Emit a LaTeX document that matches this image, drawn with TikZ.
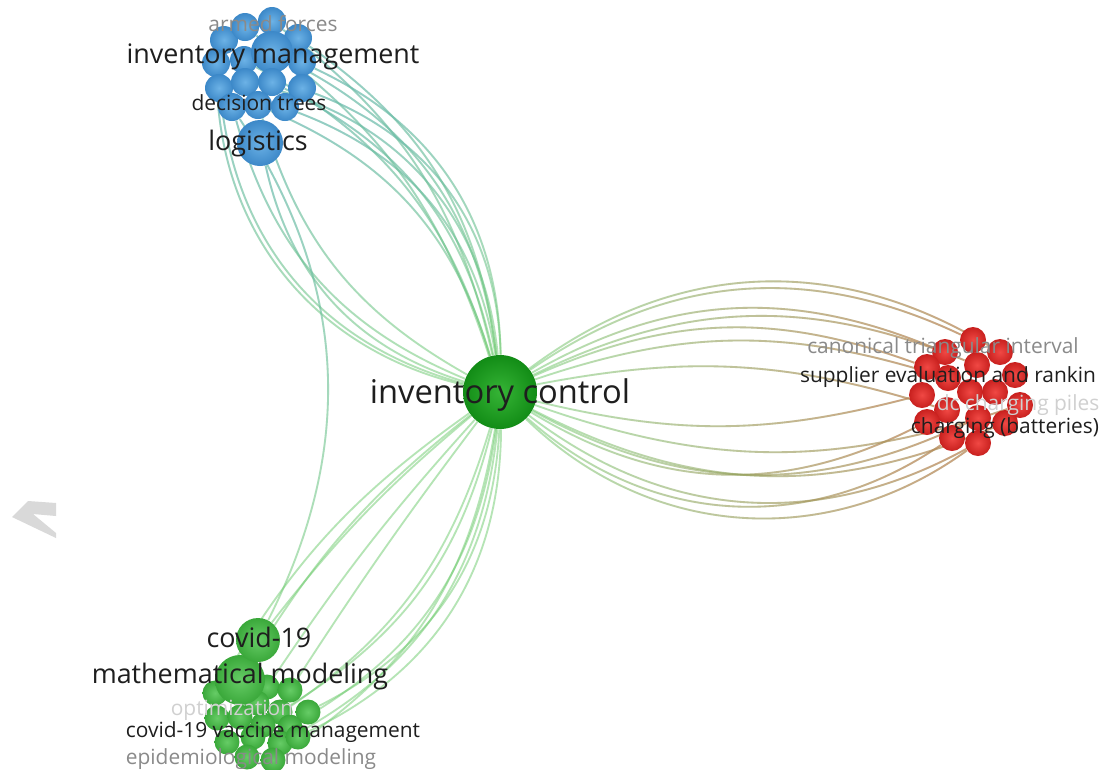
\documentclass[tikz,border=0pt]{standalone}
\usepackage{fontspec}
\setmainfont{Open Sans}
\usetikzlibrary{fadings}
\pgfdeclarelayer{paper}
\pgfdeclarelayer{edges}
\pgfsetlayers{paper,edges,main}

% fadings used to blend each link from one cluster colour into the other
\tikzfading[name=fade to right, left color=transparent!100, right color=transparent!0]
\tikzfading[name=fade to top, top color=transparent!0, bottom color=transparent!100]

\definecolor{edgegreen}{HTML}{6CCB6C}
\definecolor{edgeblue}{HTML}{6FB4D6}
\definecolor{edgered}{HTML}{E0604A}
\definecolor{bluein}{HTML}{6CB2E6}
\definecolor{blueout}{HTML}{3C88C8}
\definecolor{redin}{HTML}{F04844}
\definecolor{redout}{HTML}{C8201E}
\definecolor{greenin}{HTML}{66CC66}
\definecolor{greenout}{HTML}{3AA83A}
\definecolor{hubin}{HTML}{36B436}
\definecolor{hubout}{HTML}{128C16}
\definecolor{labdark}{HTML}{1E1E1E}
\definecolor{labgray}{HTML}{8A8A8A}
\definecolor{labpale}{HTML}{D0D0D0}

\tikzset{
  x=0.02cm, y=-0.02cm,
  lnk/.style={line width=1.05pt, opacity=0.5},
  gedge/.style={lnk, draw=edgegreen},
  bedge/.style={lnk, draw=edgeblue, path fading=fade to top},
  redge/.style={lnk, draw=edgered, path fading=fade to right},
  kw/.style={circle, inner sep=0pt, minimum size=#1*0.04cm},
  bluekw/.style={kw=#1, inner color=bluein, outer color=blueout},
  redkw/.style={kw=#1, inner color=redin, outer color=redout},
  greenkw/.style={kw=#1, inner color=greenin, outer color=greenout},
  hubkw/.style={kw=#1, inner color=hubin, outer color=hubout},
  biglab/.style={anchor=base, inner sep=0pt, text=labdark, font=\fontsize{15.3}{16}\selectfont},
  smalllab/.style={anchor=base, inner sep=0pt, text=labdark, font=\fontsize{11.9}{13}\selectfont},
  graylab/.style={smalllab, text=labgray},
  palelab/.style={smalllab, text=labpale},
}

% a link drawn green at the hub end, blending into the colour of the far cluster
\newcommand\bilink[4]{%
  \draw[gedge] (#2) to[#3] (#4);
  \draw[#1] (#2) to[#3] (#4);}

\begin{document}
\begin{tikzpicture}
\useasboundingbox (0,0) rectangle (1101,769);
\begin{pgfonlayer}{paper}
  \fill[white] (0,0) rectangle (1101,769);
\end{pgfonlayer}

% ---------- blue cluster ----------
\node[bluekw=14] (b1) at (224,40) {};
\node[bluekw=14] (b2) at (245,27) {};
\node[bluekw=14] (b3) at (272,21) {};
\node[bluekw=14] (b4) at (298,38) {};
\node[bluekw=14] (b6) at (302,62) {};
\node[bluekw=14] (b7) at (216,63) {};
\node[bluekw=14] (b8) at (244,60) {};
\node[bluekw=21] (b5) at (272,52) {};
\node[bluekw=14] (b9) at (219,88) {};
\node[bluekw=14] (b10) at (245,82) {};
\node[bluekw=14] (b11) at (272,82) {};
\node[bluekw=14] (b12) at (302,88) {};
\node[bluekw=14] (b13) at (232,107) {};
\node[bluekw=14] (b14) at (258,105) {};
\node[bluekw=14] (b15) at (285,107) {};
\node[bluekw=23] (blo) at (260,143) {};

% ---------- red cluster ----------
\node[redkw=13] (r1) at (973,340) {};
\node[redkw=13] (r2) at (945,352) {};
\node[redkw=13] (r3) at (1000,352) {};
\node[redkw=13] (r4) at (927,367) {};
\node[redkw=13] (r5) at (977,365) {};
\node[redkw=13] (r6) at (1015,375) {};
\node[redkw=13] (r7) at (948,378) {};
\node[redkw=13] (r8) at (922,395) {};
\node[redkw=13] (r9) at (970,392) {};
\node[redkw=13] (r10) at (995,392) {};
\node[redkw=13] (r11) at (1020,405) {};
\node[redkw=13] (r12) at (947,410) {};
\node[redkw=13] (r13) at (927,422) {};
\node[redkw=13] (r14) at (978,418) {};
\node[redkw=13] (r15) at (1005,423) {};
\node[redkw=13] (r16) at (952,438) {};
\node[redkw=13] (r17) at (978,443) {};

% ---------- green cluster ----------
\node[greenkw=12.5] (g1) at (215,693) {};
\node[greenkw=12.5] (g2) at (267,687) {};
\node[greenkw=12.5] (g3) at (290,690) {};
\node[greenkw=12.5] (g4) at (257,703) {};
\node[greenkw=12.5] (g5) at (280,712) {};
\node[greenkw=12.5] (g6) at (308,712) {};
\node[greenkw=12.5] (g7) at (217,718) {};
\node[greenkw=12.5] (g8) at (240,717) {};
\node[greenkw=12.5] (g9) at (263,725) {};
\node[greenkw=12.5] (g10) at (290,727) {};
\node[greenkw=12.5] (g11) at (227,742) {};
\node[greenkw=12.5] (g12) at (253,737) {};
\node[greenkw=12.5] (g13) at (280,743) {};
\node[greenkw=12.5] (g14) at (298,737) {};
\node[greenkw=12.5] (g15) at (247,757) {};
\node[greenkw=12.5] (g16) at (273,760) {};
\node[greenkw=25] (gmm) at (240,680) {};
\node[greenkw=22] (gcv) at (258,640) {};

% ---------- hub ----------
\node[hubkw=37] (ic) at (500,392) {};

% ---------- links ----------
\begin{pgfonlayer}{edges}
  % hub to the blue cluster, arriving from the right
  \bilink{bedge}{ic}{bend right=20}{b3}
  \bilink{bedge}{ic}{bend right=24}{b4}
  \bilink{bedge}{ic}{bend right=28}{b5}
  \bilink{bedge}{ic}{bend right=32}{b6}
  \bilink{bedge}{ic}{bend right=26}{b11}
  \bilink{bedge}{ic}{bend right=34}{b12}
  \bilink{bedge}{ic}{bend right=30}{b15}
  \bilink{bedge}{ic}{bend right=22}{b8}
  \bilink{bedge}{ic}{bend right=36}{b10}
  \bilink{bedge}{ic}{bend right=18}{b2}
  \bilink{bedge}{ic}{bend right=25}{b14}
  % blue cluster to the hub, arriving from the left
  \bilink{bedge}{ic}{bend left=30}{blo}
  \bilink{bedge}{ic}{bend left=26}{b13}
  \bilink{bedge}{ic}{bend left=34}{b9}
  \bilink{bedge}{ic}{bend left=22}{b14}
  \bilink{bedge}{ic}{bend left=38}{b7}
  % blue to green
  \bilink{bedge}{gcv}{bend right=30}{b13}
  % hub to the green cluster
  \draw[gedge] (ic) to[bend right=6] (gcv);
  \draw[gedge] (ic) to[bend right=10] (gmm);
  \draw[gedge] (ic) to[bend right=4] (g2);
  \draw[gedge] (ic) to[bend right=12] (g1);
  \draw[gedge] (ic) to[bend right=2] (g3);
  \draw[gedge] (ic) to[bend left=30] (g6);
  \draw[gedge] (ic) to[bend left=26] (g10);
  \draw[gedge] (ic) to[bend left=32] (g14);
  \draw[gedge] (ic) to[bend left=28] (g13);
  \draw[gedge] (ic) to[bend left=24] (g16);
  \draw[gedge] (ic) to[bend left=20] (g9);
  \draw[gedge] (ic) to[bend left=22] (g5);
  % hub to the red cluster, upper arcs
  \bilink{redge}{ic}{bend left=30}{r1}
  \bilink{redge}{ic}{bend left=26}{r2}
  \bilink{redge}{ic}{bend left=34}{r3}
  \bilink{redge}{ic}{bend left=22}{r4}
  \bilink{redge}{ic}{bend left=18}{r7}
  \bilink{redge}{ic}{bend left=24}{r5}
  \bilink{redge}{ic}{bend left=14}{r12}
  % hub to the red cluster, lower arcs
  \bilink{redge}{ic}{bend right=38}{r16}
  \bilink{redge}{ic}{bend right=33}{r17}
  \bilink{redge}{ic}{bend right=29}{r13}
  \bilink{redge}{ic}{bend right=25}{r15}
  \bilink{redge}{ic}{bend right=19}{r11}
  \bilink{redge}{ic}{bend right=27}{r14}
  \bilink{redge}{ic}{bend right=14}{r8}
  \bilink{redge}{ic}{bend right=40}{r17}
\end{pgfonlayer}

% ---------- labels ----------
\node[graylab] (lafo) at (273,31) {armed forces};
\node[biglab] (lim) at (273,63) {inventory management};
\node[smalllab] (ldt) at (259,110) {decision trees};
\node[biglab] (llo) at (258,150) {logistics};
\node[anchor=base, inner sep=0pt, text=labdark, font=\fontsize{18.6}{20}\selectfont] (lic) at (500,403) {inventory control};
\node[graylab] (lcti) at (943,353) {canonical triangular interval};
\node[smalllab] (lse) at (948,382) {supplier evaluation and rankin};
\node[palelab] (ldc) at (1018,410) {dc charging piles};
\node[smalllab] (lcb) at (1005,433) {charging (batteries)};
\node[biglab] (lcv) at (259,647) {covid-19};
\node[biglab] (lmm) at (240,683) {mathematical modeling};
\node[palelab] (lop) at (232,715) {optimization};
\node[smalllab] (lvm) at (273,737) {covid-19 vaccine management};
\node[graylab] (lem) at (251,764) {epidemiological modeling};

% ---------- pointer glyph at the left edge ----------
\fill[black!15] (12,517) -- (28,501) -- (56,503) -- (56,516) -- (33,514)
  -- (56,533) -- (56,538) -- cycle;
\end{tikzpicture}
\end{document}
